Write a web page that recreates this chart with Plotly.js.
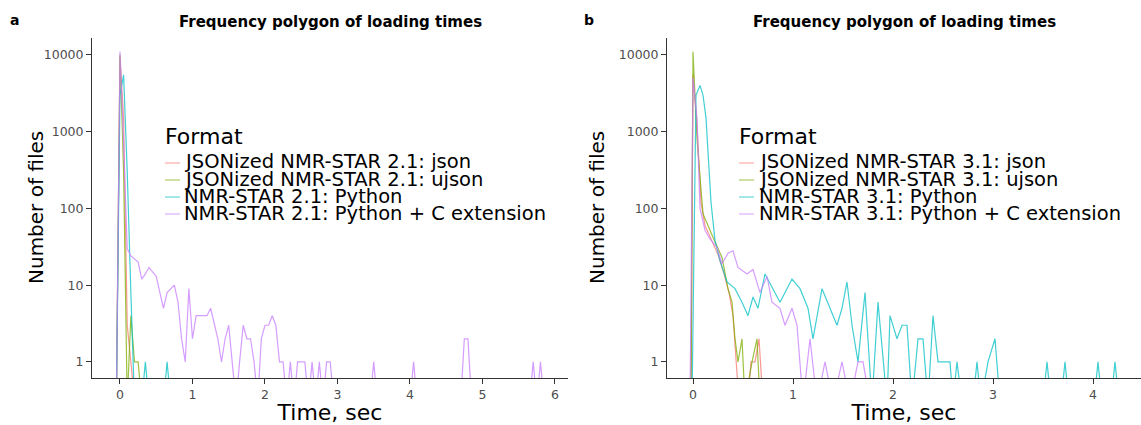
<!DOCTYPE html>
<html><head><meta charset="utf-8">
<script src="https://cdn.plot.ly/plotly-3.0.1.min.js"></script>
<style>html,body{margin:0;padding:0;background:#fff}#chart{width:1141px;height:425px}</style>
</head><body><div id="chart"></div>
<script>
// ---- text ----
const panelTitle = "Frequency polygon of loading times";
const panelLabels = ["a", "b"];
const legendTitle = "Format";
const xTitle = "Time, sec";
const yTitle = "Number of files";
const namesA = ["JSONized NMR-STAR 2.1: json", "JSONized NMR-STAR 2.1: ujson", "NMR-STAR 2.1: Python", "NMR-STAR 2.1: Python + C extension"];
const namesB = ["JSONized NMR-STAR 3.1: json", "JSONized NMR-STAR 3.1: ujson", "NMR-STAR 3.1: Python", "NMR-STAR 3.1: Python + C extension"];
const yTickVals = [1, 10, 100, 1000, 10000];
const yTickText = ["1", "10", "100", "1000", "10000"];
const xTicksA = [0, 1, 2, 3, 4, 5, 6];
const xTicksB = [0, 1, 2, 3, 4];

// ---- panel a data (time, count) ----
const aJsonT = [-0.05, 0, 0.05, 0.1, 0.15, 0.2];
const aJsonN = [0, 9500, 1500, 3, 1, 0];
const aUjsonT = [-0.05, 0, 0.05, 0.1, 0.15, 0.2, 0.25, 0.3];
const aUjsonN = [0, 10000, 300, 0, 4, 1, 1, 0];
const aPyT = [-0.05, 0, 0.05, 0.1, 0.15, 0.2, 0.3, 0.35, 0.4, 0.6, 0.65, 0.7];
const aPyN = [0, 3000, 5500, 300, 8, 0, 0, 1, 0, 0, 1, 0];
const aCextT = [-0.05, 0, 0.05, 0.1, 0.15, 0.2, 0.25, 0.3, 0.35, 0.4, 0.45, 0.5, 0.55, 0.6, 0.65, 0.7, 0.75, 0.8, 0.85, 0.9, 0.95, 1.0,
  1.05, 1.1, 1.15, 1.2, 1.25, 1.3, 1.35, 1.4, 1.45, 1.5, 1.55, 1.6, 1.65, 1.7, 1.75, 1.8, 1.85, 1.9, 1.95, 2.0, 2.05, 2.1, 2.15,
  2.2, 2.25, 2.3, 2.35, 2.4, 2.45, 2.5, 2.55, 2.6, 2.65, 2.7, 2.75, 2.8, 2.85, 2.9, 2.95, 3.45, 3.5, 3.55, 4.0, 4.05, 4.1,
  4.7, 4.75, 4.8, 4.85, 5.65, 5.7, 5.75, 5.8, 5.85];
const aCextN = [0, 11000, 700, 30, 24, 22, 20, 12, 14, 17, 15, 13, 8, 5, 8, 9, 10, 6, 2, 1, 9, 2,
  4, 4, 4, 4, 5, 3, 2, 1, 2, 3, 1, 0, 1, 3, 2, 2, 1, 0, 2, 3, 3, 4, 3,
  1, 1, 0, 1, 0, 1, 1, 1, 0, 1, 0, 1, 0, 1, 1, 0, 0, 1, 0, 0, 1, 0,
  0, 2, 2, 0, 0, 1, 0, 1, 0];

// ---- panel b data (time, count) ----
const bJsonT = [-0.02, 0.0, 0.04, 0.08, 0.12, 0.18, 0.25, 0.31, 0.36, 0.4, 0.43, 0.46, 0.55, 0.58, 0.62, 0.66, 0.7];
const bJsonN = [0, 5500, 1200, 120, 60, 40, 25, 14, 8, 4, 1, 0, 0, 1, 1, 2, 0];
const bUjsonT = [-0.02, 0.0, 0.04, 0.1, 0.2, 0.29, 0.35, 0.39, 0.42, 0.45, 0.49, 0.52, 0.59, 0.64, 0.67];
const bUjsonN = [0, 11000, 800, 85, 42, 23, 9, 6, 2, 1, 2, 0, 1, 2, 0];
const bPyT = [-0.01, 0.03, 0.07, 0.1, 0.13, 0.16, 0.18, 0.22, 0.27, 0.34, 0.42, 0.49, 0.55, 0.6, 0.65, 0.72, 0.8, 0.87, 0.99,
  1.07, 1.15, 1.2, 1.29, 1.37, 1.44, 1.49, 1.54, 1.59, 1.65, 1.72, 1.79, 1.85, 1.9, 1.94, 1.97, 2.04, 2.09, 2.14, 2.19,
  2.25, 2.3, 2.35, 2.4, 2.45, 2.5, 2.57, 2.6, 2.64, 2.69, 2.8, 2.84, 2.88, 2.95, 3.02, 3.07,
  3.5, 3.54, 3.58, 3.68, 3.72, 3.76, 4.01, 4.05, 4.09, 4.18, 4.22, 4.26];
const bPyN = [0, 3000, 4000, 3000, 1500, 400, 120, 38, 21, 11, 9, 6, 4, 7, 5, 14, 9, 6, 12,
  9, 5, 2, 9, 5, 3, 5, 11, 3, 1, 8, 0, 6, 1, 0, 4, 2, 3, 3, 0,
  2, 2, 0, 4, 1, 1, 1, 0, 1, 0, 0, 1, 0, 1, 2, 0,
  0, 1, 0, 0, 1, 0, 0, 1, 0, 0, 1, 0];
const bCextT = [-0.03, 0.0, 0.04, 0.07, 0.12, 0.17, 0.24, 0.29, 0.35, 0.4, 0.45, 0.54, 0.6, 0.67, 0.74, 0.79, 0.87, 0.92, 0.99,
  1.04, 1.1, 1.17, 1.24, 1.32, 1.4, 1.49, 1.57, 1.65, 1.7, 1.77];
const bCextN = [0, 5000, 1500, 100, 52, 40, 31, 19, 26, 28, 17, 14, 16, 8, 13, 6, 5, 3, 5,
  3, 0, 2, 0, 1, 0, 1, 0, 1, 1, 0];

// ---- style ----
const colors = ["#F8766D", "#7CAE00", "#00BFC4", "#C77CFF"];
const FONT = "DejaVu Sans, Liberation Sans, sans-serif";
const ZERO_SHOWN_AS = 0.3; // zero counts fall below the log axis (ggplot -Inf)
const W = 1141, H = 425;
const px = v => v / W, py = v => 1 - v / H;

function mk(t, n, name, ci, xa, ya) {
  return {
    x: t, y: n.map(v => v > 0 ? v : ZERO_SHOWN_AS), name: name, type: "scatter", mode: "lines",
    xaxis: xa, yaxis: ya, showlegend: false, opacity: 0.75,
    line: { color: colors[ci], width: 1.2 }, hoverinfo: "x+y+name"
  };
}
const traces = [
  mk(aJsonT, aJsonN, namesA[0], 0, "x", "y"),
  mk(aUjsonT, aUjsonN, namesA[1], 1, "x", "y"),
  mk(aPyT, aPyN, namesA[2], 2, "x", "y"),
  mk(aCextT, aCextN, namesA[3], 3, "x", "y"),
  mk(bJsonT, bJsonN, namesB[0], 0, "x2", "y2"),
  mk(bUjsonT, bUjsonN, namesB[1], 1, "x2", "y2"),
  mk(bPyT, bPyN, namesB[2], 2, "x2", "y2"),
  mk(bCextT, bCextN, namesB[3], 3, "x2", "y2")
];

const axisCommon = {
  showline: true, linecolor: "#333", linewidth: 1, mirror: false, showgrid: false, zeroline: false,
  ticks: "outside", ticklen: 5, tickwidth: 1, tickcolor: "#333",
  tickfont: { family: FONT, size: 12.5, color: "#4d4d4d" }
};
const yDom = [py(378), py(38)];
const layout = {
  width: W, height: H, margin: { l: 0, r: 0, t: 0, b: 0 },
  paper_bgcolor: "#fff", plot_bgcolor: "#fff", showlegend: false,
  font: { family: FONT, color: "#000" },
  xaxis: Object.assign({}, axisCommon, { domain: [px(92), px(568)], range: [-0.386, 6.18], tickvals: xTicksA, anchor: "y",
    title: { text: xTitle, font: { family: FONT, size: 22, color: "#000" }, standoff: 2 } }),
  yaxis: Object.assign({}, axisCommon, { domain: yDom, type: "log", range: [-0.21, 4.22], tickvals: yTickVals, ticktext: yTickText, anchor: "x" }),
  xaxis2: Object.assign({}, axisCommon, { domain: [px(667), 1], range: [-0.26, 4.48], tickvals: xTicksB, anchor: "y2",
    title: { text: xTitle, font: { family: FONT, size: 22, color: "#000" }, standoff: 2 } }),
  yaxis2: Object.assign({}, axisCommon, { domain: yDom, type: "log", range: [-0.21, 4.22], tickvals: yTickVals, ticktext: yTickText, anchor: "x2" }),
  annotations: [], shapes: []
};

const panels = [
  { label: panelLabels[0], labelX: 14, titleX: 330, yTitleX: 36, legX: 163, keyX0: 165, keyX1: 180, textX: 182, names: namesA },
  { label: panelLabels[1], labelX: 589, titleX: 904, yTitleX: 597, legX: 737, keyX0: 739, keyX1: 754, textX: 757, names: namesB }
];
panels.forEach(p => {
  layout.annotations.push({ xref: "paper", yref: "paper", x: px(p.labelX), y: py(20), text: "<b>" + p.label + "</b>",
    showarrow: false, xanchor: "center", yanchor: "middle", font: { family: FONT, size: 14, color: "#000" } });
  layout.annotations.push({ xref: "paper", yref: "paper", x: px(p.titleX), y: py(22), text: "<b>" + panelTitle + "</b>",
    showarrow: false, xanchor: "center", yanchor: "middle", font: { family: FONT, size: 15, color: "#000" } });
  layout.annotations.push({ xref: "paper", yref: "paper", x: px(p.yTitleX), y: py(208), text: yTitle, textangle: -90,
    showarrow: false, xanchor: "center", yanchor: "middle", font: { family: FONT, size: 20, color: "#000" } });
  layout.annotations.push({ xref: "paper", yref: "paper", x: px(p.legX), y: py(137), text: legendTitle,
    showarrow: false, xanchor: "left", yanchor: "middle", font: { family: FONT, size: 22, color: "#000" } });
  p.names.forEach((nm, i) => {
    const yc = 162 + 17 * i;
    layout.annotations.push({ xref: "paper", yref: "paper", x: px(p.textX), y: py(yc), text: nm,
      showarrow: false, xanchor: "left", yanchor: "middle", font: { family: FONT, size: 19.5, color: "#000" } });
    layout.shapes.push({ type: "line", xref: "paper", yref: "paper", x0: px(p.keyX0), x1: px(p.keyX1), y0: py(yc + 1), y1: py(yc + 1),
      line: { color: colors[i], width: 1.2 }, opacity: 0.6 });
  });
});

Plotly.newPlot("chart", traces, layout, { displayModeBar: false, staticPlot: true });
</script></body></html>
